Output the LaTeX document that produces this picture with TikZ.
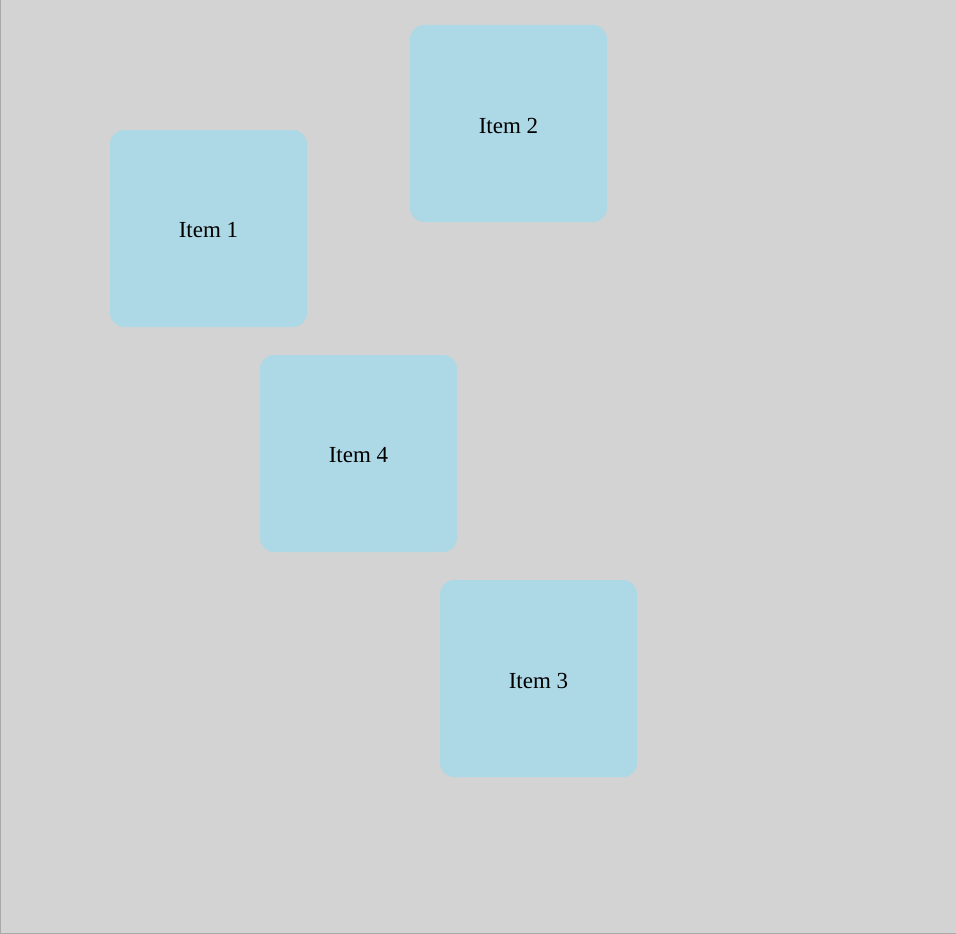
\documentclass[tikz,border=0pt]{standalone}
\usepackage{fontspec}
\setmainfont{Liberation Serif}
\definecolor{bg}{HTML}{D3D3D3}
\definecolor{edge}{HTML}{A9A9A9}
\definecolor{itemblue}{HTML}{ADD8E6}
\begin{document}
\begin{tikzpicture}[x=1pt,y=-1pt,
  itembox/.style={fill=itemblue, draw=none, rounded corners=14pt, minimum width=197pt, minimum height=197pt, inner sep=0pt, font=\fontsize{23}{27}\selectfont},
  itemlabel/.style={inner sep=0pt, font=\fontsize{23}{27}\selectfont}]
\fill[bg] (0,0) rectangle (956,934);
\useasboundingbox (0,0) rectangle (956,934);
\draw[edge, line width=1pt] (0.5,0) -- (0.5,933.5) -- (956,933.5);
\node[itembox] (i1) at (208.5,228.5) {};
\node[itembox] (i2) at (508.5,123.5) {};
\node[itembox] (i4) at (358.5,453.5) {};
\node[itembox] (i3) at (538.5,678.5) {};
\node[itemlabel] (t1) at ([yshift=-2pt]i1.center) {Item 1};
\node[itemlabel] (t2) at ([yshift=-2pt]i2.center) {Item 2};
\node[itemlabel] (t4) at ([yshift=-2pt]i4.center) {Item 4};
\node[itemlabel] (t3) at ([yshift=-2pt]i3.center) {Item 3};
\end{tikzpicture}
\end{document}
